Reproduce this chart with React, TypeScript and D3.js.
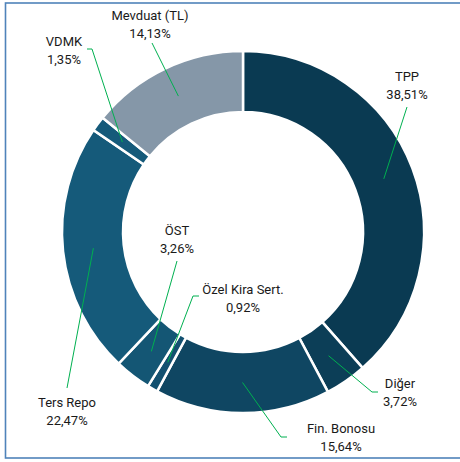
import React from "react";
import * as d3 from "d3";

const categories = ["TPP", "Diğer", "Fin. Bonosu", "Özel Kira Sert.", "ÖST", "Ters Repo", "VDMK", "Mevduat (TL)"];
const values = [38.51, 3.72, 15.64, 0.92, 3.26, 22.47, 1.35, 14.13];
const colors = ["#0a3a52", "#0c3e57", "#0f4662", "#125070", "#145674", "#155a7a", "#155a7a", "#8597a8"];

// label layout: text center x, first baseline y, leader anchor (label end), optional elbow
const labelLayout = [
  { x: 407, y: 81, ax: 407, ay: 107, elbow: null as null | number },
  { x: 400, y: 388, ax: 378, ay: 392, elbow: 372 },
  { x: 341, y: 433, ax: 287, ay: 437, elbow: 281 },
  { x: 243, y: 294, ax: 199, ay: 296, elbow: 193 },
  { x: 177, y: 235, ax: 177, ay: 261, elbow: null },
  { x: 67, y: 407, ax: 67, ay: 388, elbow: null },
  { x: 64, y: 46, ax: 87, ay: 49, elbow: 92 },
  { x: 150, y: 20, ax: 152, ay: 43, elbow: null },
];

const W = 460;
const H = 462;
const cx = 243;
const cy = 232;
const rOuter = 181;
const rInner = 120;

const fmt = (v: number) => v.toFixed(2).replace(".", ",") + "%";

export default function App() {
  const data = categories.map((c, i) => ({ name: c, value: values[i], color: colors[i] }));
  const pie = d3.pie<any>().value((d: any) => d.value).sort(null);
  const arcs = pie(data);
  const arcGen = d3.arc<any>().innerRadius(rInner).outerRadius(rOuter);

  return (
    <svg width={W} height={H} style={{ position: "absolute", left: 0, top: 0 }} fontFamily="Roboto, 'Liberation Sans', sans-serif">
      <rect x={0} y={0} width={W} height={H} fill="#fff" />
      <rect x={5.5} y={3} width={470} height={455} fill="none" stroke="#4f83ba" strokeWidth={1.6} />
      <g transform={`translate(${cx},${cy})`}>
        {arcs.map((a, i) => (
          <path key={i} d={arcGen(a) as string} fill={a.data.color} stroke="#fff" strokeWidth={2.5} />
        ))}
      </g>
      {arcs.map((a, i) => {
        const [px, py] = arcGen.centroid(a);
        const L = labelLayout[i];
        const pts: [number, number][] = [[L.ax, L.ay]];
        if (L.elbow !== null) pts.push([L.elbow, L.ay]);
        pts.push([cx + px, cy + py]);
        const line = d3.line()(pts) as string;
        return <path key={"l" + i} d={line} fill="none" stroke="#00b050" strokeWidth={1} />;
      })}
      {arcs.map((a, i) => {
        const L = labelLayout[i];
        return (
          <text key={"t" + i} x={L.x} y={L.y} textAnchor="middle" fontSize={13} fill="#1a1a1a">
            <tspan x={L.x}>{a.data.name}</tspan>
            <tspan x={L.x} dy={17.5}>{fmt(a.data.value)}</tspan>
          </text>
        );
      })}
    </svg>
  );
}
